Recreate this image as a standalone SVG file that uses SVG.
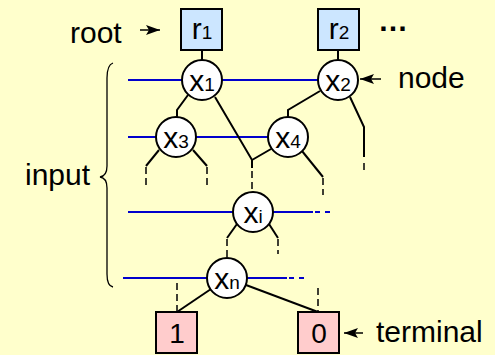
<svg xmlns="http://www.w3.org/2000/svg" width="495" height="355" viewBox="0 0 495 355">
<style>
text{font-family:"Liberation Sans",Arial,sans-serif;fill:#000}
.lbl{font-size:30px}
.sub{font-size:19px}
.circ{fill:#fff;stroke:#000;stroke-width:2}
.root{fill:#CCE6FF;stroke:#000;stroke-width:2}
.term{fill:#FFCCCC;stroke:#000;stroke-width:2}
.var{stroke:#0000CC;stroke-width:2;fill:none}
.vard{stroke:#0000CC;stroke-width:2;fill:none;stroke-dasharray:5,5}
.e{stroke:#000;stroke-width:2;fill:none}
.d{stroke:#000;stroke-width:1.5;fill:none;stroke-dasharray:7,4}
.ar{stroke:#000;stroke-width:1.5}
</style>
<defs>
<marker id="ah" markerWidth="15" markerHeight="10" refX="14" refY="5" orient="auto" markerUnits="userSpaceOnUse">
<path d="M0,0 L14,5 L0,10 L3,5 Z" fill="#000"/>
</marker>
</defs>
<rect x="0" y="0" width="495" height="355" fill="#FFFFCC"/>

<g id="variable-lines">
<line class="var" x1="128" y1="80" x2="318" y2="80"/>
<line class="var" x1="128" y1="137" x2="268" y2="137"/>
<line class="var" x1="128" y1="212" x2="313" y2="212"/>
<line class="vard" x1="315" y1="212" x2="332" y2="212"/>
<line class="var" x1="123" y1="278" x2="287" y2="278"/>
<line class="vard" x1="289" y1="278" x2="306" y2="278"/>
</g>

<g id="connectors">
<line class="e" x1="202" y1="50" x2="202" y2="60"/>
<line class="e" x1="338" y1="50" x2="338" y2="60"/>
<polyline class="e" points="188,95 177,110 177,117"/>
<polyline class="e" points="215,97 252,160 271,149"/>
<polyline class="e" points="252,160 252,168"/>
<line class="d" x1="252" y1="171" x2="252" y2="192"/>
<polyline class="e" points="320,91 288,110 288,117"/>
<polyline class="e" points="350,97 364,127 364,157"/>
<line class="d" x1="364" y1="163" x2="364" y2="173"/>
<polyline class="e" points="159,150 146,166"/>
<line class="d" x1="146" y1="167" x2="146" y2="189"/>
<polyline class="e" points="193,150 207,166"/>
<line class="d" x1="207" y1="167" x2="207" y2="189"/>
<polyline class="e" points="302,151 323,177"/>
<line class="d" x1="323" y1="178" x2="323" y2="195"/>
<polyline class="e" points="237,224 227,238"/>
<line class="d" x1="227" y1="239" x2="227" y2="258"/>
<polyline class="e" points="269,224 278,238"/>
<line class="d" x1="278" y1="239" x2="278" y2="254"/>
<line class="e" x1="211" y1="289" x2="177" y2="312"/>
<line class="d" x1="177" y1="283" x2="177" y2="312"/>
<line class="e" x1="246" y1="285" x2="318" y2="312"/>
<line class="d" x1="318" y1="288" x2="318" y2="312"/>
</g>

<g id="r1"><rect class="root" x="181" y="9" width="41" height="41"/><text class="lbl" x="202" y="39" text-anchor="middle">r<tspan class="sub">1</tspan></text></g>
<g id="r2"><rect class="root" x="318" y="9" width="41" height="41"/><text class="lbl" x="339" y="39" text-anchor="middle">r<tspan class="sub">2</tspan></text></g>
<g id="ellipsis"><text class="lbl" x="378" y="31" font-weight="bold">…</text></g>

<g id="x1"><circle class="circ" cx="202" cy="80" r="20"/><text class="lbl" x="202" y="91" text-anchor="middle">x<tspan class="sub">1</tspan></text></g>
<g id="x2"><circle class="circ" cx="338" cy="80" r="20"/><text class="lbl" x="338" y="91" text-anchor="middle">x<tspan class="sub">2</tspan></text></g>
<g id="x3"><circle class="circ" cx="176" cy="137" r="20"/><text class="lbl" x="176" y="148" text-anchor="middle">x<tspan class="sub">3</tspan></text></g>
<g id="x4"><circle class="circ" cx="288" cy="137" r="20"/><text class="lbl" x="288" y="148" text-anchor="middle">x<tspan class="sub">4</tspan></text></g>
<g id="xi"><circle class="circ" cx="253" cy="212" r="20"/><text class="lbl" x="253" y="223" text-anchor="middle">x<tspan class="sub">i</tspan></text></g>
<g id="xn"><circle class="circ" cx="227" cy="278" r="20"/><text class="lbl" x="227" y="289" text-anchor="middle">x<tspan class="sub">n</tspan></text></g>

<g id="t1"><rect class="term" x="156" y="312" width="41" height="41"/><text x="177" y="343" font-size="28" text-anchor="middle">1</text></g>
<g id="t0"><rect class="term" x="298" y="312" width="41" height="41"/><text x="319" y="343" font-size="28" text-anchor="middle">0</text></g>

<g id="labels">
<text class="lbl" x="70" y="43">root</text>
<line class="ar" x1="140" y1="30" x2="160" y2="30" marker-end="url(#ah)"/>
<text class="lbl" x="398" y="88">node</text>
<line class="ar" x1="381" y1="79" x2="360" y2="79" marker-end="url(#ah)"/>
<text class="lbl" x="25" y="185">input</text>
<path d="M113,63 Q107,65 107,78 L107,166 Q107,176 100,177 Q107,178 107,188 L107,274 Q107,286 113,287" fill="none" stroke="#000" stroke-width="1.3"/>
<text class="lbl" x="376" y="342">terminal</text>
<line class="ar" x1="363" y1="333" x2="344" y2="333" marker-end="url(#ah)"/>
</g>
</svg>
